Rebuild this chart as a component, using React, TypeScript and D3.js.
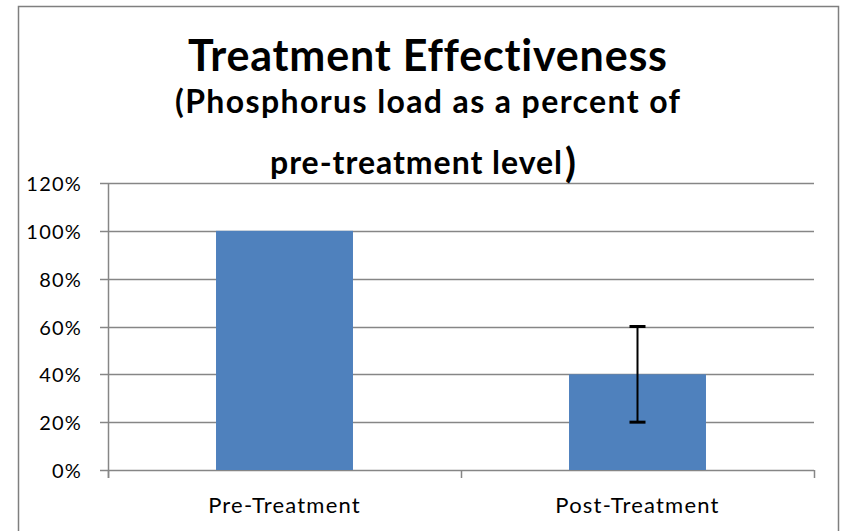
import React from "react";
import * as d3 from "d3";

// values
const categories = ["Pre-Treatment", "Post-Treatment"];
const values = [1.0, 0.4];
const errors = [0, 0.2];
const yTicks = [0, 0.2, 0.4, 0.6, 0.8, 1.0, 1.2];

const W = 841;
const H = 531;
const plot = { left: 108, right: 814, top: 183, bottom: 470 };
const font = "Lato, 'Open Sans', sans-serif";
const noLig = { fontVariantLigatures: "none" } as React.CSSProperties;

const App = () => {
  const x = d3
    .scaleBand<string>()
    .domain(categories)
    .range([plot.left, plot.right])
    .paddingInner(0.612)
    .paddingOuter(0.306);

  const y = d3.scaleLinear().domain([0, 1.2]).range([plot.bottom, plot.top]);
  const fmt = d3.format(".0%");

  // category boundaries for the little x tick marks
  const step = (plot.right - plot.left) / categories.length;
  const xTickPos = d3.range(categories.length + 1).map((i) => plot.left + i * step);

  return (
    <svg width={W} height={H} style={{ position: "absolute", left: 0, top: 0 }}>
      <rect x={0} y={0} width={W} height={H} fill="#fff" />
      <rect x={18.5} y={6.5} width={820} height={540} fill="#fff" stroke="#7f7f7f" strokeWidth={1.5} />

      {/* gridlines + y labels */}
      {yTicks.map((t) => (
        <g key={t}>
          <line x1={plot.left - 8} x2={plot.right} y1={Math.round(y(t)) + 0.5} y2={Math.round(y(t)) + 0.5} stroke="#868686" strokeWidth={1.5} />
          <text x={82} y={y(t) + 8} textAnchor="end" fontFamily={font} fontSize={20} letterSpacing={1.2} fill="#000">
            {fmt(t)}
          </text>
        </g>
      ))}
      <line x1={plot.left + 0.5} x2={plot.left + 0.5} y1={plot.top} y2={plot.bottom + 8} stroke="#868686" strokeWidth={1.5} />
      {xTickPos.map((p, i) => (
        <line key={i} x1={p + 0.5} x2={p + 0.5} y1={plot.bottom} y2={plot.bottom + 8} stroke="#868686" strokeWidth={1.5} />
      ))}

      {/* bars */}
      {categories.map((c, i) => (
        <rect key={c} x={x(c)} y={y(values[i])} width={x.bandwidth()} height={y(0) - y(values[i])} fill="#4f81bd" />
      ))}

      {/* error bars */}
      {categories.map((c, i) => {
        if (!errors[i]) return null;
        const cx = (x(c) as number) + x.bandwidth() / 2;
        const hi = y(values[i] + errors[i]);
        const lo = y(values[i] - errors[i]);
        return (
          <g key={c} stroke="#000">
            <line x1={cx} x2={cx} y1={hi} y2={lo} strokeWidth={2} />
            <line x1={cx - 8} x2={cx + 8} y1={hi} y2={hi} strokeWidth={3} />
            <line x1={cx - 8} x2={cx + 8} y1={lo} y2={lo} strokeWidth={3} />
          </g>
        );
      })}

      {/* x labels */}
      {categories.map((c) => (
        <text key={c} x={(x(c) as number) + x.bandwidth() / 2} y={513} textAnchor="middle" fontFamily={font} fontSize={22} letterSpacing={1.2} fill="#000">
          {c}
        </text>
      ))}

      {/* title */}
      <text x={188} y={71} textLength={479} lengthAdjust="spacing" fontFamily={font} fontWeight="bold" fontSize={43} fill="#000" style={noLig}>
        Treatment Effectiveness
      </text>
      <text x={175} y={113} textLength={505} lengthAdjust="spacing" fontFamily={font} fontWeight="bold" fontSize={32} fill="#000" style={noLig}>
        (Phosphorus load as a percent of
      </text>
      <text x={270} y={174} textLength={292} lengthAdjust="spacing" fontFamily={font} fontWeight="bold" fontSize={32} fill="#000" style={noLig}>
        pre-treatment level
      </text>
      <text x={565} y={177} fontFamily={font} fontWeight="bold" fontSize={40} fill="#000">
        )
      </text>
    </svg>
  );
};

export default App;
